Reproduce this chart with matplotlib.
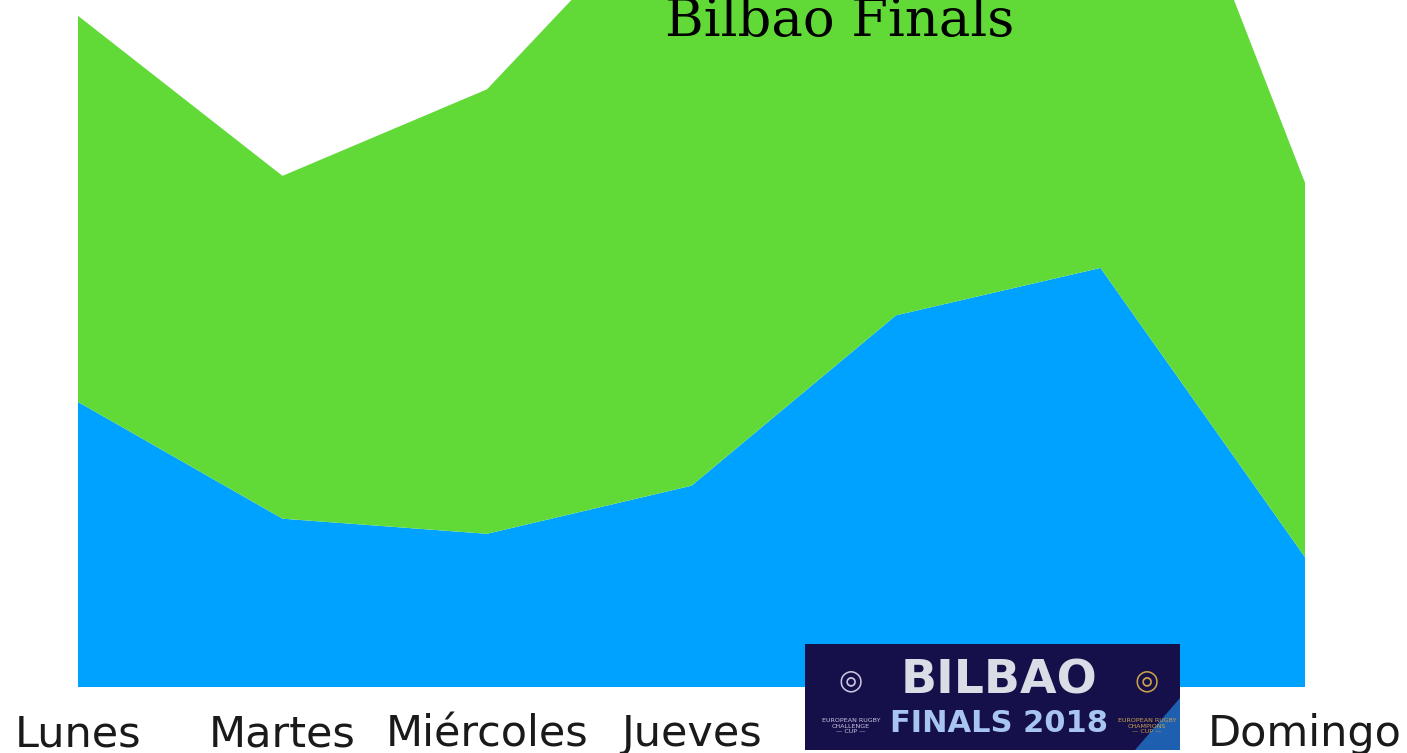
import matplotlib
matplotlib.use('Agg')
import matplotlib.pyplot as plt
from matplotlib.patches import Rectangle, Polygon

days = ['Lunes', 'Martes', 'Miércoles', 'Jueves', 'Viernes', 'Sábado', 'Domingo']
blue_vals = [41.5, 24.5, 22.3, 29.3, 54.1, 61.0, 18.9]
green_vals = [56.2, 49.9, 64.7, 89.2, 75.0, 89.0, 54.5]
title = "Bilbao Finals"

blue = '#00A2FF'
green = '#61DA38'

W, H = 1407, 753
fig = plt.figure(figsize=(W / 100, H / 100), dpi=100)
ax = fig.add_axes([78 / W, 66 / H, (1305 - 78) / W, 687 / H])

x = list(range(len(days)))
ax.stackplot(x, blue_vals, green_vals, colors=[blue, green], linewidth=0)
ax.set_xlim(0, len(days) - 1)
ax.set_ylim(0, 100)
for s in ax.spines.values():
    s.set_visible(False)
ax.set_yticks([])
ax.set_xticks(x)
ax.set_xticklabels(days, fontsize=31, color='#1a1a1a')
ax.tick_params(axis='x', length=0, pad=19)
ax.set_facecolor('none')

fig.text(840 / W, 1 - 36 / H, title, ha='center', va='baseline',
         fontsize=38, family='DejaVu Serif', color='black')

# logo block covering the Viernes / Sábado labels
lx0, ly0, lw, lh = 805 / W, (753 - 750) / H, 375 / W, 106 / H
fig.patches.append(Rectangle((lx0, ly0), lw, lh, transform=fig.transFigure,
                             facecolor='#16104a', edgecolor='none', zorder=10))
fig.patches.append(Polygon([(1135 / W, ly0), (1180 / W, ly0), (1180 / W, 55 / H)],
                           closed=True, transform=fig.transFigure,
                           facecolor='#1f5fb0', edgecolor='none', zorder=10))
fig.text(999 / W, 1 - 681 / H, 'BILBAO', ha='center', va='center', fontsize=34,
         fontweight='bold', color='#d8dde6', zorder=11)
fig.text(999 / W, 1 - 724 / H, 'FINALS 2018', ha='center', va='center', fontsize=22,
         fontweight='bold', color='#a8c4f0', zorder=11)
for cx, col, lines in [(851, '#c9c6e0', 'EUROPEAN RUGBY\nCHALLENGE\n— CUP —'),
                       (1147, '#c9a24a', 'EUROPEAN RUGBY\nCHAMPIONS\n— CUP —')]:
    fig.text(cx / W, 1 - 726 / H, lines, ha='center', va='center', fontsize=4.6,
             color=col, linespacing=1.1, zorder=11)
    fig.text(cx / W, 1 - 680 / H, '◎', ha='center', va='center', fontsize=20,
             color=col, zorder=11)

plt.savefig('out.png', dpi=100)
